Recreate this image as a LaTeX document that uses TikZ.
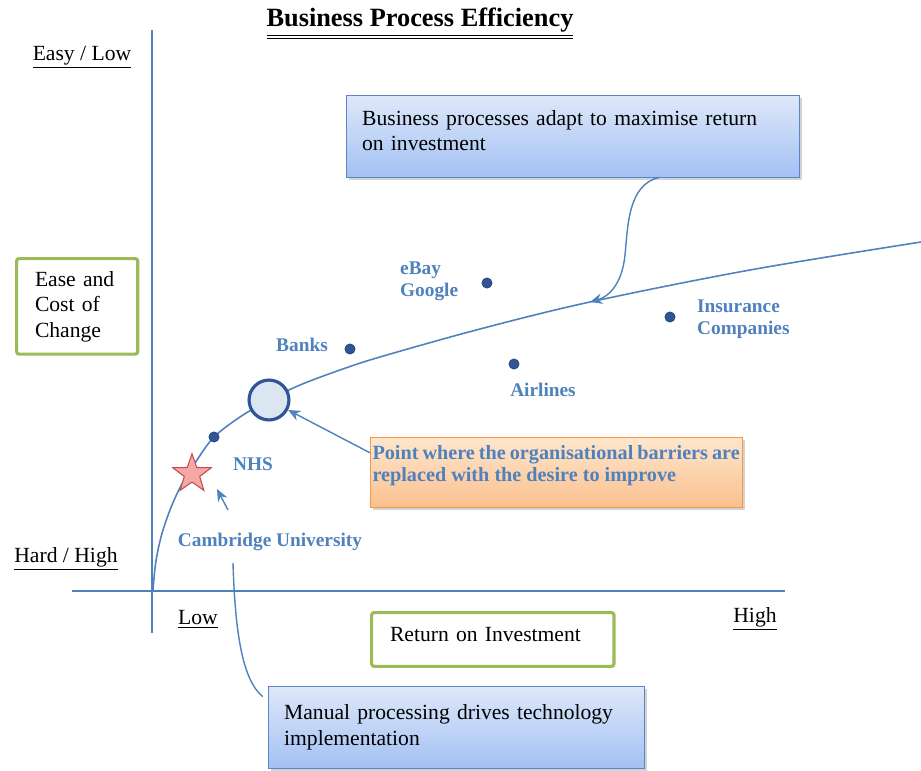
\documentclass[tikz,border=0pt]{standalone}
\usepackage{fontspec}
\setmainfont{Liberation Serif}
\usetikzlibrary{shapes.geometric,shadows,arrows.meta}

\definecolor{axisblue}{HTML}{4F81BD}
\definecolor{dotblue}{HTML}{2F5597}
\definecolor{framegreen}{HTML}{9BBB59}
\definecolor{calloutborder}{HTML}{5B86C5}
\definecolor{callouttop}{HTML}{DEE8F9}
\definecolor{calloutbottom}{HTML}{A3C1F4}
\definecolor{notetop}{HTML}{FFE6CC}
\definecolor{notebottom}{HTML}{FAC08F}
\definecolor{noteborder}{HTML}{F79646}
\definecolor{stardraw}{HTML}{C0504D}
\definecolor{starfill}{HTML}{F5A9A7}
\definecolor{circlefill}{HTML}{DCE6F2}

\tikzset{
  axisline/.style={axisblue, line width=1.3pt},
  framebox/.style={draw=framegreen, line width=1.8pt, rounded corners=1.5pt, anchor=north west, align=left, inner xsep=10pt},
  callout/.style={draw=calloutborder, top color=callouttop, bottom color=calloutbottom,
    drop shadow={opacity=0.35, shadow xshift=1.5pt, shadow yshift=-1.5pt}, anchor=north west, align=left, inner xsep=9pt},
  firm/.style={circle, fill=dotblue, draw=dotblue!80!black, inner sep=0pt, minimum size=5.8pt},
  firmlabel/.style={text=axisblue, font=\fontsize{11}{12.5}\selectfont\bfseries, align=left},
  pointer/.style={axisblue, line width=0.8pt, -{Stealth[length=7pt, width=6pt]}},
}

\begin{document}
\begin{tikzpicture}[x=0.02cm, y=-0.02cm, font=\fontsize{12.3}{14.5}\selectfont]
  \useasboundingbox (0,0) rectangle (921,771);

  % Title
  \node[font=\fontsize{15}{17}\selectfont\bfseries] (title) at (420,24) {\underline{\underline{Business Process Efficiency}}};

  % Axes
  \draw[axisline] (152,30) -- (152,633);
  \draw[axisline] (72,591) -- (785,591);
  \node (easy) at (82,57) {\underline{Easy / Low}};
  \node (hard) at (66,559) {\underline{Hard / High}};
  \node (low) at (198,619) {\underline{Low}};
  \node (high) at (755,619) {\underline{High}};
  \node[framebox, minimum width=69pt, minimum height=54.4pt, text width=48pt] (ease) at (15,257) {Ease and\\Cost of\\Change};
  \node[framebox, minimum width=138pt, minimum height=30.6pt, text width=117pt] (roi) at (370,611)
    {Return on Investment\\[-9pt]\mbox{}};

  % Efficiency curve
  \draw[axisblue, line width=0.9pt] plot[smooth, tension=0.55] coordinates {
    (153,590) (155,568) (158,550) (163,530) (172,505) (183,482) (197,460) (214,437)
    (240,417) (269,400) (300,385) (340,370) (380,357) (480,329) (590,302) (750,270) (921,242)};

  % Organisations on the curve
  \node[star, star points=5, star point ratio=2.5, minimum size=23pt, inner sep=0pt,
        fill=starfill, draw=stardraw, line width=0.6pt] (camstar) at (192,474) {};
  \node[circle, minimum size=22.7pt, inner sep=0pt, draw=dotblue, line width=1.8pt, fill=circlefill] (barrier) at (269,400) {};
  \node[firm] (nhsdot) at (214,437) {};
  \node[firm] (banksdot) at (350,349) {};
  \node[firm] (ebaydot) at (487,283) {};
  \node[firm] (airlinesdot) at (514,364) {};
  \node[firm] (insurancedot) at (670,317) {};

  \node[firmlabel] (nhs) at (253,464) {NHS};
  \node[firmlabel] (banks) at (302,345) {Banks};
  \node[firmlabel, anchor=west] (ebay) at (394,281) {eBay\\Google};
  \node[firmlabel] (airlines) at (543,390) {Airlines};
  \node[firmlabel, anchor=west] (insurance) at (691,319) {Insurance\\Companies};
  \node[firmlabel] (cambridge) at (270,542) {Cambridge University};

  % Callouts
  \node[callout, minimum width=258pt, minimum height=46.5pt, text width=240pt] (adaptbox) at (346,95)
    {Business processes adapt to maximise return\\on investment\\[-8pt]\mbox{}};
  \node[callout, draw=noteborder, top color=notetop, bottom color=notebottom, inner xsep=1pt,
        minimum width=211.5pt, minimum height=40pt, text width=209pt, text=axisblue,
        font=\fontsize{11.5}{12.5}\selectfont\bfseries, align=justify] (pointbox) at (370,437)
    {Point where the organisational barriers are replaced with the desire to improve\\[-2.5pt]\mbox{}};
  \node[callout, minimum width=214pt, minimum height=46.5pt, text width=196pt] (manualbox) at (268,686)
    {Manual processing drives technology\\implementation};

  % Pointers
  \coordinate (adapttip) at (590,302);
  \coordinate (camtail) at (228,510);
  \coordinate (camtip) at (217,489);
  \coordinate (manualtip) at (233,563);
  \draw[pointer] ([xshift=49pt]adaptbox.south) .. controls (628,185) and (628,225) .. (625,255)
    .. controls (622,285) and (608,297) .. (adapttip);
  \draw[pointer] ([yshift=-9pt]pointbox.north west) -- (barrier);
  \draw[pointer] (camtail) -- (camtip);
  \draw[axisblue, line width=0.8pt] ([xshift=-3pt,yshift=-6pt]manualbox.north west)
    .. controls (242,680) and (235,630) .. (manualtip);
\end{tikzpicture}
\end{document}
